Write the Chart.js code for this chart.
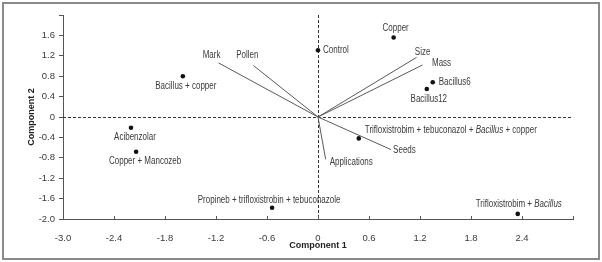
<!DOCTYPE html>
<html>
<head>
<meta charset="utf-8">
<script src="https://cdn.jsdelivr.net/npm/chart.js@4.4.0/dist/chart.umd.min.js"></script>
<style>
  html, body { margin: 0; padding: 0; background: #fff; }
  #wrap { position: relative; width: 602px; height: 262px; }
</style>
</head>
<body>
<div id="wrap"><canvas id="chart"></canvas></div>
<script>
// treatment scores
const treatments = ["Control", "Copper", "Bacillus6", "Bacillus12", "Bacillus + copper", "Acibenzolar",
  "Copper + Mancozeb", "Propineb + trifloxistrobin + tebuconazole", "Trifloxistrobim + Bacillus",
  "Trifloxistrobim + tebuconazol + Bacillus + copper"];
const treatX = [0.0, 0.89, 1.35, 1.28, -1.59, -2.20, -2.14, -0.54, 2.35, 0.48];
const treatY = [1.31, 1.56, 0.68, 0.55, 0.80, -0.21, -0.68, -1.78, -1.90, -0.42];

// variable loadings (drawn as vectors from origin)
const variables = ["Mark", "Pollen", "Size", "Mass", "Seeds", "Applications"];
const varX = [-1.17, -0.76, 1.16, 1.23, 0.86, 0.09];
const varY = [1.06, 1.01, 1.17, 1.02, -0.64, -0.83];

const xTicks = [-3.0, -2.4, -1.8, -1.2, -0.6, 0, 0.6, 1.2, 1.8, 2.4, 3.0];
const yTicks = [-2.0, -1.6, -1.2, -0.8, -0.4, 0, 0.4, 0.8, 1.2, 1.6, 2.0];

// label placement (style only)
const treatLabelPos = {
  "Control": ["left", 5, 0],
  "Copper": ["center", 2, -9],
  "Bacillus6": ["left", 6, 0],
  "Bacillus12": ["center", 2, 10],
  "Bacillus + copper": ["center", 3, 10],
  "Acibenzolar": ["center", 4, 10],
  "Copper + Mancozeb": ["center", 9, 10],
  "Propineb + trifloxistrobin + tebuconazole": ["center", -3, -8],
  "Trifloxistrobim + Bacillus": ["center", 1, -10],
  "Trifloxistrobim + tebuconazol + Bacillus + copper": ["left", 6, -8]
};
const varLabelPos = {
  "Mark": ["center", -7, -8],
  "Pollen": ["center", -6, -10],
  "Size": ["center", 6, -5],
  "Mass": ["center", 19, -2],
  "Seeds": ["left", 2, 1],
  "Applications": ["left", 4, 3]
};
const italicWords = ["Bacillus"];
const italicLabels = ["Trifloxistrobim + Bacillus", "Trifloxistrobim + tebuconazol + Bacillus + copper"];

const FONT = '"Liberation Sans", Arial, sans-serif';
const NARROW = 0.8; // squeeze labels to look like a narrow face
const TEXT = "#3a3a3a";
const AXIS = "#555";

const fmt = v => (v === 0 ? "0" : v.toFixed(1));

const datasets = [];
variables.forEach((name, i) => {
  datasets.push({
    label: name,
    data: [{ x: 0, y: 0 }, { x: varX[i], y: varY[i] }],
    showLine: true,
    borderColor: "#5a5a5a",
    borderWidth: 1,
    pointRadius: 0,
    kind: "var"
  });
});
datasets.push({
  label: "treatments",
  data: treatX.map((x, i) => ({ x: x, y: treatY[i] })),
  backgroundColor: "#111",
  borderColor: "#111",
  pointRadius: 2.3,
  pointBorderWidth: 0,
  kind: "treat"
});

function drawLabel(ctx, text, x, y, align, italic) {
  const normal = "10px " + FONT;
  const ital = "italic 10px " + FONT;
  // split into pieces so selected words can be italic
  const parts = italic ? text.split(new RegExp("(" + italicWords.join("|") + ")")) : [text];
  const isIt = p => italic && italicWords.includes(p);
  let w = 0;
  parts.forEach(p => { ctx.font = isIt(p) ? ital : normal; w += ctx.measureText(p).width; });
  ctx.save();
  ctx.translate(x, y);
  ctx.scale(NARROW, 1);
  ctx.textBaseline = "middle";
  ctx.textAlign = "left";
  let cx = align === "center" ? -w / 2 : 0;
  parts.forEach(p => {
    ctx.font = isIt(p) ? ital : normal;
    ctx.fillText(p, cx, 0);
    cx += ctx.measureText(p).width;
  });
  ctx.restore();
}

const biplotPlugin = {
  id: "biplot",
  beforeDatasetsDraw(chart) {
    const { ctx, chartArea: a, scales: { x, y } } = chart;
    const x0 = Math.round(x.getPixelForValue(0)) + 0.5;
    const y0 = Math.round(y.getPixelForValue(0)) + 0.5;
    ctx.save();
    ctx.strokeStyle = "#333";
    ctx.lineWidth = 1;
    ctx.setLineDash([3, 2]);
    ctx.beginPath();
    ctx.moveTo(a.left, y0); ctx.lineTo(a.right, y0);
    ctx.moveTo(x0, a.top); ctx.lineTo(x0, a.bottom);
    ctx.stroke();
    ctx.setLineDash([]);
    // x tick marks pointing up into the plot
    ctx.strokeStyle = AXIS;
    ctx.beginPath();
    xTicks.forEach(v => {
      const px = Math.round(x.getPixelForValue(v)) + 0.5;
      ctx.moveTo(px, a.bottom); ctx.lineTo(px, a.bottom - 3);
    });
    ctx.stroke();
    ctx.restore();
  },
  afterDatasetsDraw(chart) {
    const { ctx } = chart;
    ctx.save();
    ctx.fillStyle = TEXT;
    chart.data.datasets.forEach((ds, di) => {
      const meta = chart.getDatasetMeta(di);
      if (ds.kind === "var") {
        const end = meta.data[1];
        const p = varLabelPos[ds.label];
        drawLabel(ctx, ds.label, end.x + p[1], end.y + p[2], p[0], false);
      } else {
        meta.data.forEach((pt, i) => {
          const name = treatments[i];
          const p = treatLabelPos[name];
          drawLabel(ctx, name, pt.x + p[1], pt.y + p[2], p[0], italicLabels.includes(name));
        });
      }
    });
    ctx.restore();
  },
  afterDraw(chart) {
    const { ctx, width, height } = chart;
    ctx.save();
    ctx.strokeStyle = "#8a8a8a";
    ctx.lineWidth = 2;
    ctx.strokeRect(3, 3, width - 6, height - 6);
    ctx.restore();
  }
};

new Chart(document.getElementById("chart"), {
  type: "scatter",
  data: { datasets: datasets },
  plugins: [biplotPlugin],
  options: {
    responsive: true,
    maintainAspectRatio: false,
    animation: false,
    layout: { padding: { left: 20, right: 29, top: 15, bottom: 0 } },
    plugins: { legend: { display: false }, tooltip: { enabled: false } },
    scales: {
      x: {
        type: "linear",
        min: -3, max: 3,
        afterBuildTicks: s => { s.ticks = xTicks.map(v => ({ value: v })); },
        afterFit: s => { s.height = 43; },
        grid: { display: false },
        border: { display: true, color: AXIS, width: 1 },
        ticks: {
          autoSkip: false, maxRotation: 0, padding: 6,
          color: TEXT, font: { family: FONT, size: 9.5 },
          callback: v => (v === 3 ? "" : fmt(v))
        },
        title: {
          display: true, text: "Component 1", color: "#222",
          font: { family: FONT, size: 9, weight: "bold" },
          padding: { top: 2, bottom: 11 }
        }
      },
      y: {
        type: "linear",
        min: -2, max: 2,
        afterBuildTicks: s => { s.ticks = yTicks.map(v => ({ value: v })); },
        afterFit: s => { s.width = 43; },
        grid: { display: true, drawOnChartArea: false, drawTicks: true, tickLength: 4, color: AXIS },
        border: { display: true, color: AXIS, width: 1 },
        ticks: {
          autoSkip: false, padding: 4,
          color: TEXT, font: { family: FONT, size: 9.5 },
          callback: v => (v === 2 ? "" : fmt(v))
        },
        title: {
          display: true, text: "Component 2", color: "#222",
          font: { family: FONT, size: 9, weight: "bold" },
          padding: { top: 6, bottom: 0 }
        }
      }
    }
  }
});
</script>
</body>
</html>
